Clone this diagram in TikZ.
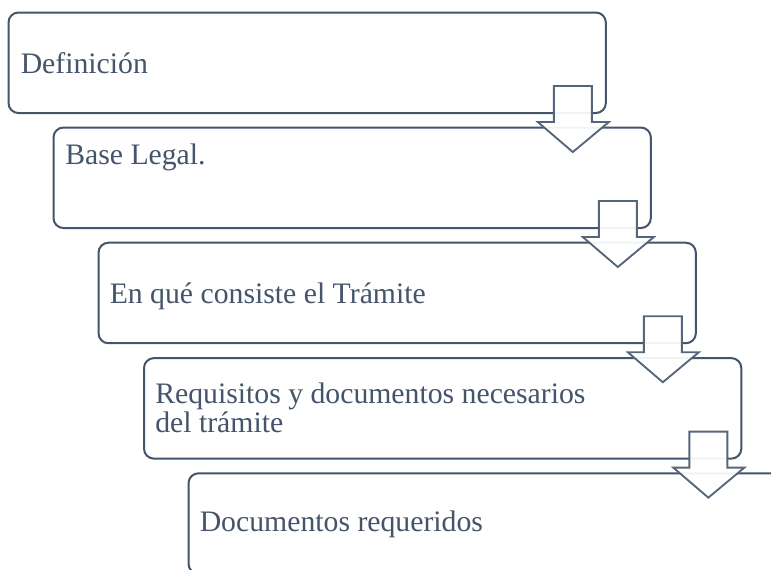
\documentclass[tikz,border=0pt]{standalone}
\usepackage{fontspec}
\setmainfont{Liberation Serif}
\usetikzlibrary{calc}
\definecolor{slate}{HTML}{44546A}
\definecolor{slatelt}{HTML}{55657A}
\tikzset{
  stepbox/.style={draw=slate, line width=1.5pt, rounded corners=7.5pt, fill=white,
    minimum width=448pt, minimum height=75.4pt, inner sep=0pt, outer sep=0pt},
  boxtext/.style={anchor=base west, inner sep=0pt, text=slate, font=\fontsize{22.3}{20.3}\selectfont, align=left},
  downarrow/.style={draw=slatelt, line width=1.4pt, fill=white, fill opacity=0.93, line join=miter}
}
\begin{document}
\begin{tikzpicture}[x=0.75pt, y=-0.75pt]
\useasboundingbox (0,0) rectangle (771,569);
\clip (0,0) rectangle (771,569);
% boxes (top-left corners)
\node[stepbox, anchor=north west] (b1) at (8.5,12.5) {};
\node[stepbox, anchor=north west] (b2) at (53.5,127.5) {};
\node[stepbox, anchor=north west] (b3) at (98.5,242.7) {};
\node[stepbox, anchor=north west] (b4) at (144,358.1) {};
\node[stepbox, anchor=north west] (b5) at (188.5,473.3) {};
% texts
\node[boxtext] (t1) at ($(b1.north west)+(12,60.5)$) {Definición};
\node[boxtext] (t2) at ($(b2.north west)+(11.5,36.5)$) {Base Legal.};
\node[boxtext] (t3) at ($(b3.north west)+(11,60.5)$) {En qué consiste el Trámite};
\node[boxtext] (t4) at ($(b4.north west)+(11,74)$) {Requisitos y documentos necesarios\\del trámite};
\node[boxtext] (t5) at ($(b5.north west)+(11,58.5)$) {Documentos requeridos};
% arrows between boxes
\foreach \a in {b1,b2,b3,b4}{
  \draw[downarrow, shift={(\a.south east)}]
    (-52,-27) -- (-14,-27) -- (-14,9) -- (3,9) -- (-33,39) -- (-68,9) -- (-52,9) -- cycle;
}
\end{tikzpicture}
\end{document}
